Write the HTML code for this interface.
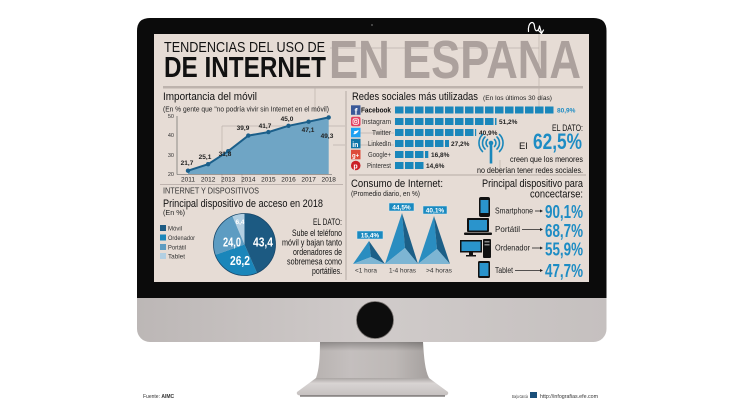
<!DOCTYPE html>
<html><head><meta charset="utf-8"><style>
html,body{margin:0;padding:0;background:#fff;width:744px;height:419px;overflow:hidden}
svg{display:block}
text{font-family:"Liberation Sans","DejaVu Sans",sans-serif}
</style></head><body>
<svg width="744" height="419" viewBox="0 0 744 419" xmlns="http://www.w3.org/2000/svg">
<defs>
<linearGradient id="chin" x1="0" y1="0" x2="1" y2="0">
<stop offset="0" stop-color="#bcb7b6"/><stop offset="0.5" stop-color="#d0cbca"/><stop offset="1" stop-color="#c5c0bf"/>
</linearGradient>
<linearGradient id="stand" x1="0" y1="0" x2="1" y2="0">
<stop offset="0" stop-color="#b8b3b1"/><stop offset="0.3" stop-color="#c4bfbe"/><stop offset="0.7" stop-color="#bdb8b6"/><stop offset="1" stop-color="#a5a09e"/>
</linearGradient>
<linearGradient id="standv" x1="0" y1="0" x2="0" y2="1">
<stop offset="0" stop-color="#000" stop-opacity="0.25"/><stop offset="0.25" stop-color="#000" stop-opacity="0"/><stop offset="1" stop-color="#000" stop-opacity="0"/>
</linearGradient>
<linearGradient id="base" x1="0" y1="0" x2="0" y2="1">
<stop offset="0" stop-color="#aaa5a3"/><stop offset="0.3" stop-color="#d8d4d3"/><stop offset="1" stop-color="#c6c1c0"/>
</linearGradient>
</defs>

<!-- monitor body -->
<rect x="137" y="18" width="469.5" height="324" rx="13" fill="url(#chin)"/>
<path d="M137,31 Q137,18 150,18 H593.5 Q606.5,18 606.5,31 V298 H137 Z" fill="#0b0b0b"/>
<circle cx="372" cy="25" r="1" fill="#555"/>
<path d="M528.5,31.5 C527.5,22 534,19.5 534.5,26.5 C535,32.5 538.5,32 539.5,26 M539.5,26 L541.5,33 M538.5,30.5 L541.5,33.5 L543.5,30" fill="none" stroke="#fff" stroke-width="1.2" stroke-linecap="round"/>
<rect x="154" y="34" width="435" height="248" fill="#e6dcd5"/>

<!-- chin button & stand -->
<circle cx="375" cy="320" r="18.5" fill="#0d0d0d" stroke="#77726f" stroke-width="0.8"/>
<path d="M320,342 L423,342 C424,358 425,370 429,378 L316,378 C319,370 320,358 320,342 Z" fill="url(#stand)"/>
<path d="M320,342 L423,342 C424,358 425,370 429,378 L316,378 C319,370 320,358 320,342 Z" fill="url(#standv)"/>
<path d="M316,378 L429,378 L448,392 Q449,395 445,395.5 L300,395.5 Q296,395 297,392 Z" fill="url(#base)"/>
<line x1="300" y1="396" x2="445" y2="396" stroke="#6a6665" stroke-width="1.2"/>

<!-- footer -->
<text x="143" y="398" font-size="5" fill="#333">Fuente: <tspan font-weight="bold">AIMC</tspan></text>
<text x="512" y="398" font-size="4.5" fill="#333" textLength="16" lengthAdjust="spacingAndGlyphs">Borja García</text>
<rect x="530" y="392" width="7" height="6" fill="#1a4f7a"/>
<text x="540" y="398" font-size="5" fill="#333" textLength="58" lengthAdjust="spacingAndGlyphs">http://infografias.efe.com</text>

<!-- decorative faint lines -->
<g stroke="#bcb2ac" stroke-width="0.7" fill="none">
<path d="M330,48 H539 M539,34 V112 M315,88 V112"/>
<path d="M222,126 V184 M222,126 H345 M242,145 V184 M333,145 H345"/>
<path d="M360,133 H394 M360,145 H394 M500,160 V176"/>
</g>

<!-- header -->
<text x="329" y="78" font-size="54" font-weight="bold" fill="#aca19d" textLength="252" lengthAdjust="spacingAndGlyphs">EN ESPANA</text>
<text x="164" y="52" font-size="15" fill="#111" textLength="161" lengthAdjust="spacingAndGlyphs">TENDENCIAS DEL USO DE</text>
<text x="164" y="77" font-size="29" font-weight="bold" fill="#111" textLength="162" lengthAdjust="spacingAndGlyphs">DE INTERNET</text>
<rect x="163" y="86" width="420" height="2.5" fill="#bdb3ad"/>

<!-- vertical separator -->
<line x1="346" y1="91" x2="346" y2="280" stroke="#a89e98" stroke-width="0.8"/>

<!-- left top chart -->
<text x="163" y="100" font-size="11" fill="#111" textLength="94" lengthAdjust="spacingAndGlyphs">Importancia del móvil</text>
<text x="163" y="111.5" font-size="7" fill="#222" textLength="166" lengthAdjust="spacingAndGlyphs">(En % gente que "no podría vivir sin Internet en el móvil)</text>
<g font-size="5.5" fill="#333" text-anchor="end">
<text x="174" y="118">50</text><text x="174" y="137">40</text><text x="174" y="157">30</text><text x="174" y="176">20</text>
</g>
<polygon points="188,170.7 208.1,164.2 228.2,151.2 248.3,135.6 268.4,132.1 288.5,125.8 308.6,121.7 328.7,117.4 328.7,174 188,174" fill="#6fa5c5"/>
<line x1="177" y1="116" x2="177" y2="174.5" stroke="#555" stroke-width="0.6"/>
<line x1="177" y1="174.5" x2="332" y2="174.5" stroke="#555" stroke-width="0.6"/>
<polyline points="188,170.7 208.1,164.2 228.2,151.2 248.3,135.6 268.4,132.1 288.5,125.8 308.6,121.7 328.7,117.4" fill="none" stroke="#1b5f8a" stroke-width="2"/>
<g fill="#1b5f8a">
<circle cx="188" cy="170.7" r="2.2"/><circle cx="208.1" cy="164.2" r="2.2"/><circle cx="228.2" cy="151.2" r="2.2"/><circle cx="248.3" cy="135.6" r="2.2"/><circle cx="268.4" cy="132.1" r="2.2"/><circle cx="288.5" cy="125.8" r="2.2"/><circle cx="308.6" cy="121.7" r="2.2"/><circle cx="328.7" cy="117.4" r="2.2"/>
</g>
<g font-size="6.5" font-weight="bold" fill="#222" text-anchor="middle">
<text x="187" y="165">21,7</text><text x="205" y="159">25,1</text><text x="225" y="156">31,8</text><text x="243" y="130">39,9</text><text x="265" y="128">41,7</text><text x="287" y="121">45,0</text><text x="308" y="132">47,1</text><text x="327" y="138">49,3</text>
</g>
<g font-size="6.5" fill="#222" text-anchor="middle">
<text x="188" y="181.5">2011</text><text x="208.1" y="181.5">2012</text><text x="228.2" y="181.5">2013</text><text x="248.3" y="181.5">2014</text><text x="268.4" y="181.5">2015</text><text x="288.5" y="181.5">2016</text><text x="308.6" y="181.5">2017</text><text x="328.7" y="181.5">2018</text>
</g>

<!-- right top: redes sociales -->
<text x="352" y="100" font-size="11" fill="#111" textLength="126" lengthAdjust="spacingAndGlyphs">Redes sociales más utilizadas</text>
<text x="483" y="100" font-size="6.5" fill="#222" textLength="69" lengthAdjust="spacingAndGlyphs">(En los últimos 30 días)</text>

<g fill="#1a87bb">
<rect x="395" y="106.5" width="8.5" height="7"/><rect x="405" y="106.5" width="8.5" height="7"/><rect x="415" y="106.5" width="8.5" height="7"/><rect x="425" y="106.5" width="8.5" height="7"/><rect x="435" y="106.5" width="8.5" height="7"/><rect x="445" y="106.5" width="8.5" height="7"/><rect x="455" y="106.5" width="8.5" height="7"/><rect x="465" y="106.5" width="8.5" height="7"/><rect x="475" y="106.5" width="8.5" height="7"/><rect x="485" y="106.5" width="8.5" height="7"/><rect x="495" y="106.5" width="8.5" height="7"/><rect x="505" y="106.5" width="8.5" height="7"/><rect x="515" y="106.5" width="8.5" height="7"/><rect x="525" y="106.5" width="8.5" height="7"/><rect x="535" y="106.5" width="8.5" height="7"/><rect x="545" y="106.5" width="8.5" height="7"/>
<rect x="395" y="118" width="8.5" height="7"/><rect x="405" y="118" width="8.5" height="7"/><rect x="415" y="118" width="8.5" height="7"/><rect x="425" y="118" width="8.5" height="7"/><rect x="435" y="118" width="8.5" height="7"/><rect x="445" y="118" width="8.5" height="7"/><rect x="455" y="118" width="8.5" height="7"/><rect x="465" y="118" width="8.5" height="7"/><rect x="475" y="118" width="8.5" height="7"/><rect x="485" y="118" width="8.5" height="7"/><rect x="495" y="118" width="1.5" height="7"/>
<rect x="395" y="129" width="8.5" height="7"/><rect x="405" y="129" width="8.5" height="7"/><rect x="415" y="129" width="8.5" height="7"/><rect x="425" y="129" width="8.5" height="7"/><rect x="435" y="129" width="8.5" height="7"/><rect x="445" y="129" width="8.5" height="7"/><rect x="455" y="129" width="8.5" height="7"/><rect x="465" y="129" width="8.5" height="7"/><rect x="475" y="129" width="1.2" height="7"/>
<rect x="395" y="140" width="8.5" height="7"/><rect x="405" y="140" width="8.5" height="7"/><rect x="415" y="140" width="8.5" height="7"/><rect x="425" y="140" width="8.5" height="7"/><rect x="435" y="140" width="8.5" height="7"/><rect x="445" y="140" width="4" height="7"/>
<rect x="395" y="151" width="8.5" height="7"/><rect x="405" y="151" width="8.5" height="7"/><rect x="415" y="151" width="8.5" height="7"/><rect x="425" y="151" width="3.3" height="7"/>
<rect x="395" y="162" width="8.5" height="7"/><rect x="405" y="162" width="8.5" height="7"/><rect x="415" y="162" width="8.5" height="7"/>
</g>

<!-- social icons -->
<rect x="351" y="105.3" width="9.5" height="9.5" fill="#3b5998"/>
<text x="354.5" y="114.5" font-size="9" font-weight="bold" fill="#fff">f</text>
<rect x="351" y="116.8" width="9.5" height="9.5" rx="2" fill="#e4405f"/>
<rect x="353" y="118.8" width="5.5" height="5.5" rx="1.5" fill="none" stroke="#fff" stroke-width="0.8"/>
<circle cx="355.75" cy="121.55" r="1.3" fill="none" stroke="#fff" stroke-width="0.7"/>
<rect x="351" y="127.8" width="9.5" height="9.5" fill="#1da1f2"/>
<path d="M353,134 Q356,135 358.5,131 L358.5,130 Q356,131.5 354,131 Q355,133 353,134 Z" fill="#fff"/>
<rect x="351" y="138.8" width="9.5" height="9.5" fill="#0e76a8"/>
<text x="352.2" y="146.8" font-size="7" font-weight="bold" fill="#fff">in</text>
<rect x="351" y="149.8" width="9.5" height="9.5" fill="#dd4b39"/>
<text x="352" y="157.3" font-size="6" font-weight="bold" fill="#fff">g+</text>
<circle cx="355.75" cy="165.5" r="4.8" fill="#cb2027"/>
<text x="353.4" y="168.5" font-size="7" font-weight="bold" fill="#fff">p</text>

<g font-size="7" fill="#333" text-anchor="end">
<text x="391" y="112.5" font-weight="bold" fill="#111" textLength="30" lengthAdjust="spacingAndGlyphs">Facebook</text>
<text x="391" y="124" textLength="29" lengthAdjust="spacingAndGlyphs">Instagram</text>
<text x="391" y="135" textLength="19" lengthAdjust="spacingAndGlyphs">Twitter</text>
<text x="391" y="146" textLength="23" lengthAdjust="spacingAndGlyphs">LinkedIn</text>
<text x="391" y="157" textLength="23" lengthAdjust="spacingAndGlyphs">Google+</text>
<text x="391" y="168" textLength="24" lengthAdjust="spacingAndGlyphs">Pinterest</text>
</g>
<g font-size="6.5" font-weight="bold" fill="#222">
<text x="557" y="112.5" fill="#1d8cc4">80,9%</text>
<text x="499" y="124">51,2%</text>
<text x="479" y="135">40,9%</text>
<text x="451" y="146">27,2%</text>
<text x="431" y="157">16,8%</text>
<text x="426" y="168">14,6%</text>
</g>

<!-- antenna icon -->
<g stroke="#1a87bb" fill="none" stroke-width="1.6" stroke-linecap="round">
<path d="M487.5,139.5 A5,5 0 0 0 487.5,146.5 M494.5,139.5 A5,5 0 0 1 494.5,146.5"/>
<path d="M485,137 A8.5,8.5 0 0 0 485,149 M497,137 A8.5,8.5 0 0 1 497,149"/>
<path d="M482.5,134.5 A12,12 0 0 0 482.5,151.5 M499.5,134.5 A12,12 0 0 1 499.5,151.5"/>
</g>
<line x1="491" y1="145" x2="491" y2="163.5" stroke="#1a87bb" stroke-width="2.6"/>
<circle cx="491" cy="143" r="2.3" fill="#1a87bb"/>

<!-- EL DATO right -->
<text x="583" y="131" font-size="9.5" fill="#111" text-anchor="end" textLength="31" lengthAdjust="spacingAndGlyphs">EL DATO:</text>
<text x="519" y="149" font-size="9.5" fill="#111">El</text>
<text x="533" y="149" font-size="22" font-weight="bold" fill="#1d8cc4" textLength="49" lengthAdjust="spacingAndGlyphs">62,5%</text>
<text x="583" y="162" font-size="8.5" fill="#111" text-anchor="end" textLength="73" lengthAdjust="spacingAndGlyphs">creen que los menores</text>
<text x="583" y="173" font-size="8.5" fill="#111" text-anchor="end" textLength="106" lengthAdjust="spacingAndGlyphs">no deberían tener redes sociales.</text>

<line x1="349" y1="175" x2="586" y2="175" stroke="#a59b95" stroke-width="0.8"/>

<!-- left bottom: dispositivos -->
<line x1="160" y1="184.5" x2="343" y2="184.5" stroke="#b0a6a0" stroke-width="0.8"/>
<text x="163" y="193.5" font-size="8" fill="#333" textLength="96" lengthAdjust="spacingAndGlyphs">INTERNET Y DISPOSITIVOS</text>
<text x="163" y="207" font-size="11" fill="#111" textLength="160" lengthAdjust="spacingAndGlyphs">Principal dispositivo de acceso en 2018</text>
<text x="163" y="215" font-size="7" fill="#222" textLength="22" lengthAdjust="spacingAndGlyphs">(En %)</text>

<rect x="160" y="225" width="6" height="6" fill="#1c5a82"/>
<rect x="160" y="234.5" width="6" height="6" fill="#1a86ba"/>
<rect x="160" y="244" width="6" height="6" fill="#5d9cc2"/>
<rect x="160" y="253" width="6" height="6" fill="#b2cfe2"/>
<g font-size="6.5" fill="#333">
<text x="168" y="230.5" textLength="14" lengthAdjust="spacingAndGlyphs">Móvil</text>
<text x="168" y="240" textLength="27" lengthAdjust="spacingAndGlyphs">Ordenador</text>
<text x="168" y="249.5" textLength="18" lengthAdjust="spacingAndGlyphs">Portátil</text>
<text x="168" y="258.5" textLength="17" lengthAdjust="spacingAndGlyphs">Tablet</text>
</g>

<!-- pie -->
<path d="M244.5,244.5 L244.5,213.5 A31,31 0 0 1 256.99,272.87 Z" fill="#1c5a82"/>
<path d="M244.5,244.5 L256.99,272.87 A31,31 0 0 1 215.27,254.82 Z" fill="#1a86ba"/>
<path d="M244.5,244.5 L215.27,254.82 A31,31 0 0 1 232.37,215.97 Z" fill="#5d9cc2"/>
<path d="M244.5,244.5 L232.37,215.97 A31,31 0 0 1 244.5,213.5 Z" fill="#b2cfe2"/>
<circle cx="244.5" cy="244.5" r="31" fill="none" stroke="#17476a" stroke-width="0.8"/>
<g font-weight="bold" fill="#fff" text-anchor="middle" font-size="13">
<text x="263" y="246.5" textLength="20" lengthAdjust="spacingAndGlyphs">43,4</text>
<text x="232" y="246.5" textLength="18" lengthAdjust="spacingAndGlyphs">24,0</text>
<text x="240" y="265" textLength="20" lengthAdjust="spacingAndGlyphs">26,2</text>
<text x="240" y="224" font-size="6.5">6,4</text>
</g>

<g font-size="9" fill="#111" text-anchor="end">
<text x="342" y="225" textLength="29" lengthAdjust="spacingAndGlyphs">EL DATO:</text>
<text x="342" y="236" textLength="50" lengthAdjust="spacingAndGlyphs">Sube el teléfono</text>
<text x="342" y="245.5" textLength="60" lengthAdjust="spacingAndGlyphs">móvil y bajan tanto</text>
<text x="342" y="255" textLength="49" lengthAdjust="spacingAndGlyphs">ordenadores de</text>
<text x="342" y="264.5" textLength="55" lengthAdjust="spacingAndGlyphs">sobremesa como</text>
<text x="342" y="274" textLength="30" lengthAdjust="spacingAndGlyphs">portátiles.</text>
</g>

<!-- consumo de internet -->
<text x="351" y="187" font-size="11" fill="#111" textLength="92" lengthAdjust="spacingAndGlyphs">Consumo de Internet:</text>
<text x="351" y="196" font-size="7" fill="#222" textLength="69" lengthAdjust="spacingAndGlyphs">(Promedio diario, en %)</text>

<polygon points="353,264 369,241 371,257" fill="#2a8dc0"/>
<polygon points="369,241 385,264 371,257" fill="#1c5f87"/>
<polygon points="353,264 371,257 385,264" fill="#7db5d3"/>
<polygon points="385,264 402,213 405,248" fill="#2a8dc0"/>
<polygon points="402,213 418,264 405,248" fill="#1c5f87"/>
<polygon points="385,264 405,248 418,264" fill="#7db5d3"/>
<polygon points="418,264 434,216 437,249" fill="#2a8dc0"/>
<polygon points="434,216 450,264 437,249" fill="#1c5f87"/>
<polygon points="418,264 437,249 450,264" fill="#7db5d3"/>

<rect x="357" y="231" width="26" height="8" fill="#1a8ac0" stroke="#d8eaf4" stroke-width="0.5"/>
<rect x="389" y="203" width="25" height="8" fill="#1a8ac0" stroke="#d8eaf4" stroke-width="0.5"/>
<rect x="423" y="206" width="24" height="8" fill="#1a8ac0" stroke="#d8eaf4" stroke-width="0.5"/>
<g font-size="6.5" font-weight="bold" fill="#fff" text-anchor="middle">
<text x="370" y="237.5">15,4%</text><text x="401.5" y="209.5">44,5%</text><text x="435" y="212.5">40,1%</text>
</g>
<g font-size="6.8" fill="#333" text-anchor="middle">
<text x="366" y="272.5" textLength="22" lengthAdjust="spacingAndGlyphs">&lt;1 hora</text>
<text x="402.5" y="272.5" textLength="27" lengthAdjust="spacingAndGlyphs">1-4 horas</text>
<text x="439" y="272.5" textLength="26" lengthAdjust="spacingAndGlyphs">&gt;4 horas</text>
</g>

<!-- principal dispositivo -->
<text x="583" y="187" font-size="11" fill="#111" text-anchor="end" textLength="101" lengthAdjust="spacingAndGlyphs">Principal dispositivo para</text>
<text x="583" y="197.5" font-size="11" fill="#111" text-anchor="end" textLength="53" lengthAdjust="spacingAndGlyphs">concectarse:</text>

<rect x="479" y="197" width="11" height="20" rx="2" fill="#111"/>
<rect x="480.5" y="200" width="8" height="13" fill="#2a94cc"/>
<rect x="467" y="218" width="22" height="14" rx="1" fill="#111"/>
<rect x="469" y="220" width="18" height="10.5" fill="#2a94cc"/>
<rect x="464" y="232.5" width="28" height="2.5" rx="1" fill="#111"/>
<rect x="460" y="240" width="22" height="12.5" fill="#111"/>
<rect x="461.5" y="241.5" width="19" height="9.5" fill="#2a94cc"/>
<rect x="469" y="252.5" width="4" height="2.5" fill="#111"/>
<rect x="466" y="255" width="10" height="1.5" fill="#111"/>
<rect x="483" y="239" width="8" height="19" rx="1" fill="#111"/>
<rect x="484.5" y="241" width="5" height="1.5" fill="#888"/>
<rect x="484.5" y="244" width="5" height="1.5" fill="#888"/>
<rect x="478" y="261" width="12" height="17" rx="1.5" fill="#111"/>
<rect x="479.5" y="263" width="9" height="13" fill="#2a94cc"/>

<g font-size="8" fill="#222">
<text x="495" y="213.5" textLength="38" lengthAdjust="spacingAndGlyphs">Smartphone</text>
<text x="495" y="232" textLength="25" lengthAdjust="spacingAndGlyphs">Portátil</text>
<text x="495" y="250.5" textLength="35" lengthAdjust="spacingAndGlyphs">Ordenador</text>
<text x="495" y="273" textLength="18" lengthAdjust="spacingAndGlyphs">Tablet</text>
</g>
<g stroke="#222" stroke-width="0.8">
<line x1="535" y1="211" x2="541" y2="211"/><line x1="522" y1="229.5" x2="541" y2="229.5"/><line x1="532" y1="248" x2="541" y2="248"/><line x1="515" y1="270.5" x2="541" y2="270.5"/>
</g>
<g fill="#222">
<polygon points="540,209.5 543,211 540,212.5"/><polygon points="540,228 543,229.5 540,231"/><polygon points="540,246.5 543,248 540,249.5"/><polygon points="540,269 543,270.5 540,272"/>
</g>
<g font-size="18" font-weight="bold" fill="#1d8cc4" text-anchor="end">
<text x="583" y="218" textLength="38" lengthAdjust="spacingAndGlyphs">90,1%</text>
<text x="583" y="237" textLength="38" lengthAdjust="spacingAndGlyphs">68,7%</text>
<text x="583" y="255.5" textLength="38" lengthAdjust="spacingAndGlyphs">55,9%</text>
<text x="583" y="277" textLength="38" lengthAdjust="spacingAndGlyphs">47,7%</text>
</g>
</svg>
</body></html>
